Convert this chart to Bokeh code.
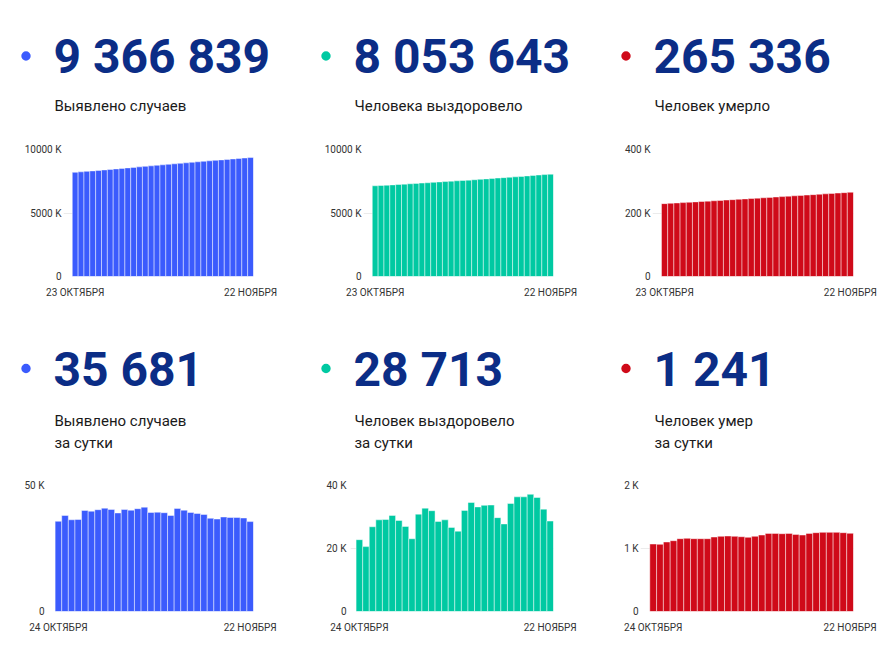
from bokeh.plotting import figure
from bokeh.layouts import column, row
from bokeh.models import (FixedTicker, CustomJSTickFormatter, Range1d, ColumnDataSource)
from bokeh.core.properties import value
from bokeh.embed import file_html
from bokeh.resources import INLINE

# ---------------- data ----------------
top_dates = ["23 ОКТЯБРЯ", "22 НОЯБРЯ"]
bottom_dates = ["24 ОКТЯБРЯ", "22 НОЯБРЯ"]

cases_total = [8203800, 8239600, 8277700, 8314100, 8350600, 8390700, 8430500, 8470900,
               8511900, 8552400, 8591500, 8632000, 8672200, 8713000, 8754400, 8793700,
               8833100, 8872300, 8910400, 8951300, 8991500, 9030800, 9069700, 9108200,
               9145200, 9181900, 9219400, 9256700, 9294000, 9331100, 9366839]
recovered_total = [7143200, 7166000, 7186600, 7213500, 7242600, 7271800, 7302300, 7331200,
                   7358200, 7381300, 7412200, 7445000, 7477000, 7505600, 7534700, 7561400,
                   7586900, 7619000, 7653600, 7686800, 7720500, 7754300, 7784100, 7811900,
                   7846200, 7882600, 7919000, 7956200, 7992400, 8024900, 8053643]
deaths_total = [229506, 230577, 231643, 232746, 233870, 235026, 236187, 237343, 238499,
                239655, 240837, 242030, 243228, 244421, 245608, 246785, 247978, 249192,
                250432, 251672, 252907, 254147, 255371, 256585, 257825, 259076, 260332,
                261588, 262844, 264095, 265336]
cases_daily = [35800, 38100, 36400, 36500, 40100, 39800, 40400, 41000, 40500, 39100,
               40500, 40200, 40800, 41400, 39300, 39400, 39200, 38100, 40900, 40200,
               39300, 38900, 38500, 37000, 36700, 37500, 37300, 37300, 37100, 35681]
recovered_daily = [22800, 20600, 26900, 29100, 29200, 30500, 28900, 27000, 23100, 30900,
                   32800, 32000, 28600, 29100, 26700, 25500, 32100, 34600, 33200, 33700,
                   33800, 29800, 27800, 34300, 36400, 36400, 37200, 36200, 32500, 28713]
deaths_daily = [1071, 1066, 1103, 1124, 1156, 1161, 1156, 1156, 1156, 1182, 1193, 1198,
                1193, 1187, 1177, 1193, 1214, 1240, 1240, 1235, 1240, 1224, 1214, 1240,
                1251, 1256, 1256, 1256, 1251, 1241]

headlines = ["9 366 839", "8 053 643", "265 336", "35 681", "28 713", "1 241"]
captions = [["Выявлено случаев"], ["Человека выздоровело"], ["Человек умерло"],
            ["Выявлено случаев", "за сутки"], ["Человек выздоровело", "за сутки"],
            ["Человек умер", "за сутки"]]
y_ticks = [[0, 5000000, 10000000], [0, 5000000, 10000000], [0, 200000, 400000],
           [0, 50000], [0, 20000, 40000], [0, 1000, 2000]]

# ---------------- style ----------------
BLUE = "#3b5bfd"
GREEN = "#00c9a2"
RED = "#cf0a19"
NAVY = "#0b2d86"
TXT = "#333333"
FONT = "Roboto"

fmt_code = "return tick == 0 ? '0' : Math.round(tick / 1000) + ' K';"

NUM_PX = 48
CAP_PX = 15
BASE_SHIFT = 0.33  # em: correction between wanted baseline and rendered one


def make_header(width, height, color, head, caps, dot_cy, num_base, cap_bases):
    # header canvas whose data units equal pixels (y measured downward from the top)
    h = figure(width=width, height=height, x_range=Range1d(0, width),
               y_range=Range1d(height, 0), min_border=0,
               x_axis_location=None, y_axis_location=None,
               output_backend="svg", toolbar_location=None, tools="",
               outline_line_color=None, background_fill_color="white",
               border_fill_color="white")
    h.xgrid.visible = False
    h.ygrid.visible = False
    h.scatter(x=[25.5], y=[dot_cy], size=9.4, marker="circle",
              fill_color=color, line_color=None)
    h.text(x=[53], y=[num_base - BASE_SHIFT * NUM_PX], text=[head], text_font=value(FONT),
           text_font_size=f"{NUM_PX}px", text_font_style="bold", text_color=NAVY,
           text_baseline="alphabetic", text_align="left")
    h.text(x=[54] * len(caps), y=[b - BASE_SHIFT * CAP_PX for b in cap_bases], text=caps,
           text_font=value(FONT), text_font_size=f"{CAP_PX}px", text_color="#1a1a1a",
           text_baseline="alphabetic", text_align="left")
    return h


def make_chart(values, ticks, dates, color, bl, fw, br, bt, fh, bb, x_start, y_standoff):
    n = len(values)
    src = ColumnDataSource(dict(x=list(range(n)), y=values))
    p = figure(frame_width=fw, frame_height=fh,
               min_border_left=bl, min_border_right=br,
               min_border_top=bt, min_border_bottom=bb,
               x_range=Range1d(x_start, n - 0.5), y_range=Range1d(0, ticks[-1]),
               output_backend="svg", toolbar_location=None, tools="",
               outline_line_color=None, background_fill_color="white",
               border_fill_color="white")
    p.vbar(x="x", top="y", bottom=0, width=1, source=src, fill_color=color,
           line_color="white", line_alpha=0.45, line_width=1)

    p.xgrid.visible = False
    p.ygrid.grid_line_color = "#ebebeb"
    p.ygrid.grid_line_width = 1

    ya = p.yaxis[0]
    ya.ticker = FixedTicker(ticks=ticks)
    ya.formatter = CustomJSTickFormatter(code=fmt_code)
    ya.axis_line_color = None
    ya.major_tick_line_color = None
    ya.minor_tick_line_color = None
    ya.major_tick_out = 0
    ya.major_tick_in = 0
    ya.major_label_standoff = y_standoff
    ya.major_label_text_font = FONT
    ya.major_label_text_font_size = "10px"
    ya.major_label_text_color = TXT

    xa = p.xaxis[0]
    xa.ticker = FixedTicker(ticks=[0, n - 1])
    xa.major_label_overrides = {0: dates[0], n - 1: dates[1]}
    xa.axis_line_color = None
    xa.major_tick_line_color = None
    xa.minor_tick_line_color = None
    xa.major_tick_out = 0
    xa.major_tick_in = 0
    xa.major_label_standoff = 10
    xa.major_label_text_font = FONT
    xa.major_label_text_font_size = "10px"
    xa.major_label_text_color = TXT
    return p


col_w = [300, 300, 280]
colors = [BLUE, GREEN, RED]

# top row: header 0..141, chart frame 149..276
top_headers = [make_header(col_w[i], 141, colors[i], headlines[i], captions[i],
                           55.5, 71.7, [110.7]) for i in range(3)]
top_charts = [
    make_chart(cases_total, y_ticks[0], top_dates, BLUE, 63, 190, 47, 8, 127, 37, -2.0, 2),
    make_chart(recovered_total, y_ticks[1], top_dates, GREEN, 63, 190, 47, 8, 127, 37, -2.0, 2),
    make_chart(deaths_total, y_ticks[2], top_dates, RED, 52, 201, 27, 8, 127, 37, -1.95, 2),
]

# bottom row: header 313..477, chart frame 485..611
bottom_headers = [make_header(col_w[i], 164, colors[i], headlines[i + 3], captions[i + 3],
                              55, 72, [112.7, 134]) for i in range(3)]
bottom_charts = [
    make_chart(cases_daily, y_ticks[3], bottom_dates, BLUE, 48, 205, 47, 8, 126, 28, -1.5, 4),
    make_chart(recovered_daily, y_ticks[4], bottom_dates, GREEN, 50, 203, 47, 8, 126, 28, -1.35, 4),
    make_chart(deaths_daily, y_ticks[5], bottom_dates, RED, 40, 213, 27, 8, 126, 28, -1.87, 2),
]

layout = column(row(*top_headers), row(*top_charts),
                row(*bottom_headers), row(*bottom_charts))

with open("out.html", "w") as f:
    f.write(file_html(layout, INLINE))
